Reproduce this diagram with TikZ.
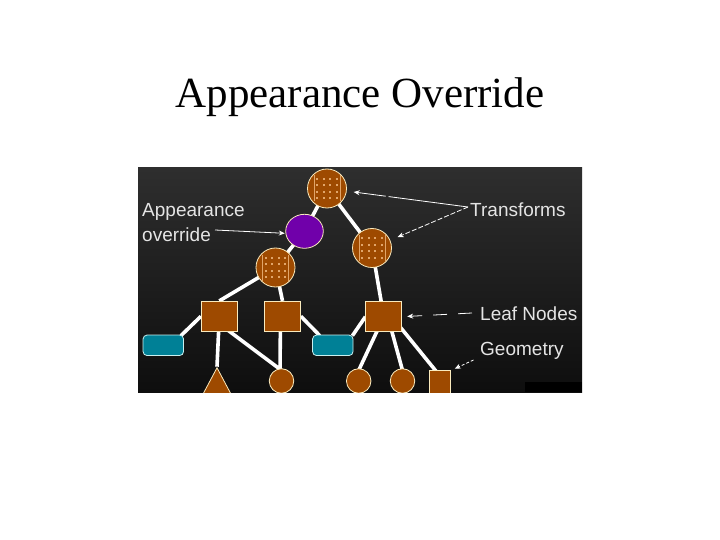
\documentclass[tikz,border=0pt]{standalone}
\usepackage{fontspec}
\setmainfont{Liberation Serif}
\newfontfamily\arialfont{Liberation Sans}
\usetikzlibrary{arrows.meta,shapes.geometric,calc}
\definecolor{nodebrown}{RGB}{158,74,0}
\definecolor{creamline}{RGB}{250,235,190}
\definecolor{appurple}{RGB}{112,0,170}
\definecolor{geocyan}{RGB}{0,128,150}
\definecolor{cyanline}{RGB}{200,240,240}
\definecolor{bgtop}{RGB}{46,46,46}
\definecolor{bgbot}{RGB}{14,14,14}
\definecolor{labeltext}{RGB}{228,228,228}
\definecolor{dotcol}{RGB}{225,165,105}
\pgfdeclarelayer{bglayer}
\pgfdeclarelayer{edgelayer}
\pgfsetlayers{bglayer,edgelayer,main}
\newcommand\xformdeco[1]{%
  \foreach \i in {-1.5,-0.5,0.5,1.5}{\foreach \j in {-1.5,-0.5,0.5,1.5}{%
    \fill[dotcol] ($(#1)+(\i*6.5-0.8,\j*6.5-1)$) rectangle ++(1.6,2);}}
  \draw[dotcol,line width=0.6pt] ($(#1)+(-13,-13)$) -- ++(0,26);
  \draw[dotcol,line width=0.6pt] ($(#1)+(13,-13)$) -- ++(0,26);
}
\begin{document}
\begin{tikzpicture}[x=1pt,y=-1pt,
  edge/.style={white,line width=3.6pt},
  pointer/.style={white,line width=0.8pt,-{Stealth[length=6pt,width=5pt]}},
  xform/.style={circle,draw=creamline,line width=0.8pt,fill=nodebrown,minimum size=39pt,inner sep=0pt},
  leaf/.style={rectangle,draw=creamline,line width=0.8pt,fill=nodebrown,minimum width=36pt,minimum height=30pt,inner sep=0pt},
  geobox/.style={rectangle,rounded corners=4pt,draw=cyanline,line width=0.8pt,fill=geocyan,minimum width=40.5pt,minimum height=20.5pt,inner sep=0pt},
  geocirc/.style={circle,draw=creamline,line width=0.8pt,fill=nodebrown,minimum size=24.5pt,inner sep=0pt},
  lbl/.style={font=\arialfont\fontsize{19}{24.3}\selectfont,text=labeltext,inner sep=0pt}]
\useasboundingbox (0,0) rectangle (720,540);
\node[font=\fontsize{43}{50}\selectfont,anchor=base,inner sep=0pt] (title) at (360,107.5) {Appearance Override};

\begin{pgfonlayer}{bglayer}
  \fill[white] (0,0) rectangle (720,540);
  \shade[top color=bgtop,bottom color=bgbot] (138,168) rectangle (582,392);
  \fill[black] (525,381.7) rectangle (582,392);
\end{pgfonlayer}

\begin{scope}
\clip (138,168) rectangle (582,392);
\node[xform] (t1) at (327,188.5) {};
\node[ellipse,draw=creamline,line width=0.8pt,fill=appurple,minimum width=37.6pt,minimum height=34pt,inner sep=0pt] (ap) at (304.5,231.3) {};
\node[xform] (t2) at (372,248) {};
\node[xform] (t3) at (275.5,267.5) {};
\xformdeco{t1}
\xformdeco{t2}
\xformdeco{t3}
\node[leaf] (L1) at (219.3,316.3) {};
\node[leaf] (L2) at (282.5,316.3) {};
\node[leaf] (L3) at (383.8,316.7) {};
\node[geobox] (c1) at (163.3,345.3) {};
\node[geobox] (c2) at (332.8,345.3) {};
\node[isosceles triangle,isosceles triangle stretches,shape border rotate=90,draw=creamline,line width=0.8pt,fill=nodebrown,minimum width=34pt,minimum height=32pt,inner sep=0pt,anchor=apex] (tri) at (217,366.7) {};
\node[geocirc] (b1) at (281.5,381) {};
\node[geocirc] (b2) at (358.7,381) {};
\node[geocirc] (b3) at (402.5,381) {};
\node[rectangle,draw=creamline,line width=0.8pt,fill=nodebrown,minimum width=21.5pt,minimum height=22.5pt,inner sep=0pt] (sq) at (440,382) {};
\end{scope}

\begin{pgfonlayer}{edgelayer}
  \clip (138,168) rectangle (582,392);
  \draw[edge] (t1.center) -- (ap.center);
  \draw[edge] (t1.center) -- (t2.center);
  \draw[edge] (ap.center) -- (t3.center);
  \draw[edge] (t3.center) -- (L1.north);
  \draw[edge] (t3.center) -- (L2.north);
  \draw[edge] (t2.center) -- (L3.center);
  \draw[edge] (L1.west) -- ([xshift=-3pt,yshift=-1pt]c1.north east);
  \draw[edge] (L1.center) -- (tri.apex);
  \draw[edge] ([xshift=-10pt]L1.center) -- ([yshift=-2pt]b1.north);
  \draw[edge] ([xshift=-2pt]L2.center) -- ([xshift=-1.5pt,yshift=-2pt]b1.north);
  \draw[edge] (L2.east) -- ([xshift=-13pt,yshift=-1pt]c2.north);
  \draw[edge] (L3.west) -- ([xshift=-1pt,yshift=-1pt]c2.north east);
  \draw[edge] (L3.center) -- ([yshift=-2pt]b2.north);
  \draw[edge] ([xshift=4pt]L3.center) -- ([yshift=-2pt]b3.north);
  \draw[edge] ([xshift=8pt]L3.center) -- ([xshift=-3pt,yshift=-2pt]sq.north);
\end{pgfonlayer}

% labels
\node[lbl,align=left,anchor=base west] (apptext) at (142,241.2) {Appearance\\override};
\node[lbl,anchor=base west] (trtext) at (470,216.5) {Transforms};
\node[lbl,anchor=base west] (leaftext) at (480,320.5) {Leaf Nodes};
\node[lbl,anchor=base west] (geotext) at (480,355.5) {Geometry};

\coordinate (aptail) at (215,230);
\coordinate (trtail) at (468,207);
\coordinate (leaftail) at (472,313);
\coordinate (geotail) at (473.5,360);

\draw[pointer] (aptail) -- ([xshift=-0.5pt,yshift=-2pt]ap.west);
\draw[pointer,dash pattern=on 80pt off 3pt,shorten >=7pt] (trtail) -- (t1);
\draw[pointer,dash pattern=on 5pt off 2pt,shorten >=8pt] (trtail) -- (t2);
\draw[pointer,dash pattern=on 14pt off 11pt,shorten >=5pt] (leaftail) -- (L3.east);
\draw[pointer,dash pattern=on 3pt off 2pt,shorten >=4pt] (geotail) -- (sq.north east);
\end{tikzpicture}
\end{document}
